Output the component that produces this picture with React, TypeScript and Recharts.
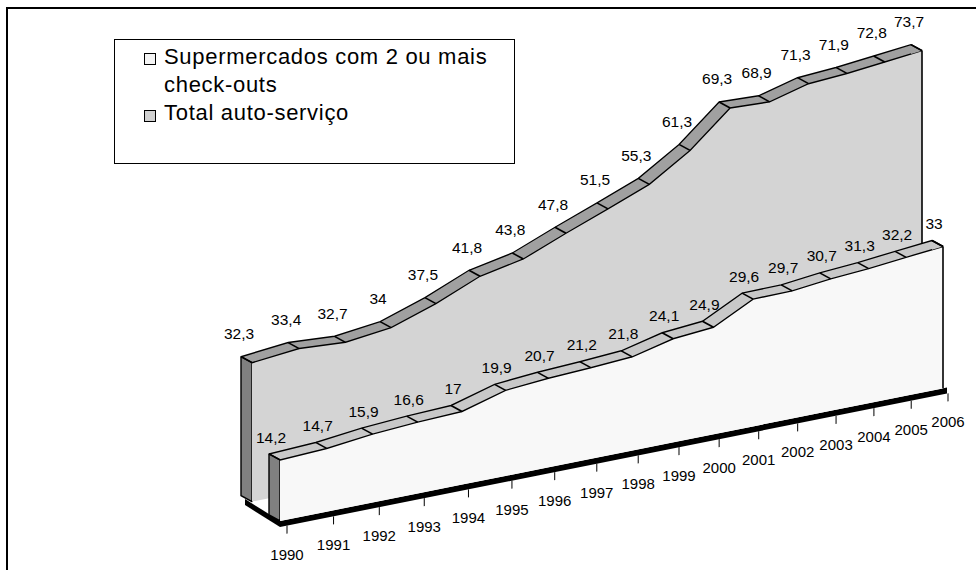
import React from "react";
import { AreaChart, Area, XAxis, YAxis, ReferenceArea } from "recharts";

const years = [
  "1990", "1991", "1992", "1993", "1994", "1995", "1996", "1997", "1998",
  "1999", "2000", "2001", "2002", "2003", "2004", "2005", "2006",
];
const totalValues = [
  32.3, 33.4, 32.7, 34, 37.5, 41.8, 43.8, 47.8, 51.5, 55.3, 61.3, 69.3, 68.9,
  71.3, 71.9, 72.8, 73.7,
];
const superValues = [
  14.2, 14.7, 15.9, 16.6, 17, 19.9, 20.7, 21.2, 21.8, 24.1, 24.9, 29.6, 29.7,
  30.7, 31.3, 32.2, 33,
];
const superName = ["Supermercados com 2 ou mais", "check-outs"];
const totalName = "Total auto-serviço";

const data = years.map((year, i) => ({
  year,
  total: totalValues[i],
  super: superValues[i],
}));

// fake 3D: the whole chart is sheared, each slab gets a shifted copy for its top.
// years sit on a log scale counted from a vanishing year, which mimics the
// perspective squeeze of the original.
const VANISH = 1934;
const depthKey = (d: { year: string }) => Number(d.year) - VANISH;
const SHEAR = -0.2;
const PLOT_TOP = 76;
const PLOT_BOTTOM = 463;
const SPAN = 90;
const UNIT = (PLOT_BOTTOM - PLOT_TOP) / SPAN;
const DX = 11;
const DY = 8.2;
const FLOOR = 6;
const BACK = 25;
const FONT = "'Liberation Sans', Arial, sans-serif";

const domain = (lift: number): [number, number] => {
  const lo = -lift / UNIT;
  return [lo, lo + SPAN];
};
// undo the shear on text so glyphs stay upright
const upright = (x: number) => `matrix(1 ${-SHEAR} 0 1 0 ${SHEAR * x})`;
const fmt = (v: number) => String(v).replace(".", ",");

const topDots =
  (key: "total" | "super", lift: number, shift: number) => (p: any) => {
    const { cx, cy, index, payload } = p;
    if (cx == null || cy == null) return <g key={index} />;
    const lx = cx + shift;
    return (
      <g key={index}>
        <line x1={cx} y1={cy} x2={cx + DX} y2={cy + DY} stroke="#000" strokeWidth={1.4} />
        <text
          x={lx}
          y={cy - lift}
          textAnchor="middle"
          fontSize={15.5}
          fill="#000"
          transform={upright(lx)}
        >
          {fmt(payload[key])}
        </text>
      </g>
    );
  };

const capShape = (fill: string) => (p: any) => {
  const { x, y, height } = p;
  const pts = [
    [x, y],
    [x, y + height],
    [x - DX, y + height - DY],
    [x - DX, y - DY],
  ];
  return (
    <polygon
      points={pts.map((q) => q.join(",")).join(" ")}
      fill={fill}
      stroke="#000"
      strokeWidth={1.4}
      strokeLinejoin="round"
    />
  );
};

const endShape = (fill: string) => (p: any) => {
  const { x, y, height } = p;
  return (
    <g>
      <polygon
        points={`${x},${y} ${x - DX},${y - DY} ${x - DX},${y + 1}`}
        fill={fill}
      />
      <line x1={x} y1={y} x2={x - DX} y2={y - DY} stroke="#000" strokeWidth={1.4} />
      <line x1={x} y1={y} x2={x} y2={y + height} stroke="#000" strokeWidth={1.6} />
    </g>
  );
};

const floorShape = (p: any) => {
  const { x, y, width, height } = p;
  const edge = [
    [x, y],
    [x, y + height],
    [x - 35, y + height - 29],
    [x - 35, y - 29],
  ];
  return (
    <g>
      <polygon points={edge.map((q) => q.join(",")).join(" ")} fill="#000" />
      <rect x={x} y={y} width={width + 4} height={height} fill="#000" />
    </g>
  );
};

function YearTick(p: any) {
  const { x, y, payload } = p;
  return (
    <text
      x={x}
      y={y + 24}
      textAnchor="middle"
      fontSize={15}
      fill="#000"
      transform={upright(x)}
    >
      {String(Math.round(payload.value + VANISH))}
    </text>
  );
}

const first = depthKey(data[0]);
const last = depthKey(data[data.length - 1]);
const tickValues = data.map(depthKey);

const hiddenX = (id: string, left: number, right: number) => (
  <XAxis
    xAxisId={id}
    type="number"
    scale="log"
    dataKey={depthKey}
    domain={["dataMin", "dataMax"]}
    hide
    height={0}
    padding={{ left, right }}
  />
);

export default function App() {
  return (
    <div
      style={{
        position: "fixed",
        left: 0,
        top: 0,
        width: 976,
        height: 570,
        overflow: "hidden",
        background: "#fff",
        fontFamily: FONT,
      }}
    >
      <div
        style={{
          position: "absolute",
          left: 6,
          top: 7,
          width: 1000,
          height: 600,
          border: "2px solid #000",
        }}
      />
      <div
        style={{
          position: "absolute",
          left: 0,
          top: 120,
          width: 976,
          height: 530,
          transform: `matrix(1, ${SHEAR}, 0, 1, 0, 0)`,
          transformOrigin: "0 0",
        }}
      >
        <AreaChart
          width={976}
          height={530}
          data={data}
          margin={{ top: PLOT_TOP, right: 0, bottom: 27, left: 0 }}
        >
          <XAxis
            xAxisId="ticks"
            type="number"
            scale="log"
            dataKey={depthKey}
            domain={["dataMin", "dataMax"]}
            ticks={tickValues}
            padding={{ left: 287, right: 28 }}
            height={40}
            tickSize={8}
            axisLine={false}
            tickLine={{ stroke: "#000" }}
            interval={0}
            tick={<YearTick />}
          />
          {hiddenX("bc", 241, 65)}
          {hiddenX("bf", 252, 54)}
          {hiddenX("fc", 269, 44)}
          {hiddenX("ff", 280, 33)}
          <YAxis yAxisId="bc" type="number" hide width={0} domain={domain(FLOOR + BACK + DY)} />
          <YAxis yAxisId="bf" type="number" hide width={0} domain={domain(FLOOR + BACK)} />
          <YAxis yAxisId="fc" type="number" hide width={0} domain={domain(FLOOR + DY)} />
          <YAxis yAxisId="ff" type="number" hide width={0} domain={domain(FLOOR)} />

          <ReferenceArea
            xAxisId="ff"
            yAxisId="ff"
            x1={first}
            x2={last}
            y1={domain(FLOOR)[0]}
            y2={0}
            ifOverflow="visible"
            shape={floorShape}
          />

          <Area
            xAxisId="bc"
            yAxisId="bc"
            type="linear"
            dataKey="total"
            baseValue={0}
            fill="#a0a0a0"
            fillOpacity={1}
            stroke="#000"
            strokeWidth={1.4}
            dot={topDots("total", 18, -2)}
            activeDot={false}
            isAnimationActive={false}
          />
          <ReferenceArea
            xAxisId="bf"
            yAxisId="bf"
            x1={first}
            x2={first}
            y1={0}
            y2={totalValues[0]}
            ifOverflow="visible"
            shape={capShape("#808080")}
          />
          <Area
            xAxisId="bf"
            yAxisId="bf"
            type="linear"
            dataKey="total"
            baseValue={0}
            fill="#d4d4d4"
            fillOpacity={1}
            stroke="#000"
            strokeWidth={1.4}
            dot={false}
            activeDot={false}
            isAnimationActive={false}
          />
          <ReferenceArea
            xAxisId="bf"
            yAxisId="bf"
            x1={last}
            x2={last}
            y1={0}
            y2={totalValues[totalValues.length - 1]}
            ifOverflow="visible"
            shape={endShape("#a0a0a0")}
          />

          <Area
            xAxisId="fc"
            yAxisId="fc"
            type="linear"
            dataKey="super"
            baseValue={0}
            fill="#c8c8c8"
            fillOpacity={1}
            stroke="#000"
            strokeWidth={1.4}
            dot={topDots("super", 11, 2)}
            activeDot={false}
            isAnimationActive={false}
          />
          <ReferenceArea
            xAxisId="ff"
            yAxisId="ff"
            x1={first}
            x2={first}
            y1={0}
            y2={superValues[0]}
            ifOverflow="visible"
            shape={capShape("#808080")}
          />
          <Area
            xAxisId="ff"
            yAxisId="ff"
            type="linear"
            dataKey="super"
            baseValue={0}
            fill="#f8f8f8"
            fillOpacity={1}
            stroke="#000"
            strokeWidth={1.4}
            dot={false}
            activeDot={false}
            isAnimationActive={false}
          />
          <ReferenceArea
            xAxisId="ff"
            yAxisId="ff"
            x1={last}
            x2={last}
            y1={0}
            y2={superValues[superValues.length - 1]}
            ifOverflow="visible"
            shape={endShape("#c8c8c8")}
          />
        </AreaChart>
      </div>

      <svg
        width={976}
        height={570}
        style={{ position: "absolute", left: 0, top: 0, pointerEvents: "none" }}
        fontFamily={FONT}
      >
        <rect x={114.5} y={39.5} width={400} height={124} fill="#fff" stroke="#000" strokeWidth={1} />
        <rect x={144.5} y={53.5} width={11} height={11} fill="#f4f4f4" stroke="#000" strokeWidth={1} />
        <text x={164} y={64} fontSize={22} letterSpacing={0.7} fill="#000">
          {superName[0]}
        </text>
        <text x={164} y={92} fontSize={22} letterSpacing={0.7} fill="#000">
          {superName[1]}
        </text>
        <rect x={144.5} y={110.5} width={11} height={11} fill="#d0d0d0" stroke="#000" strokeWidth={1} />
        <text x={164} y={120} fontSize={22} letterSpacing={0.7} fill="#000">
          {totalName}
        </text>
      </svg>
    </div>
  );
}
